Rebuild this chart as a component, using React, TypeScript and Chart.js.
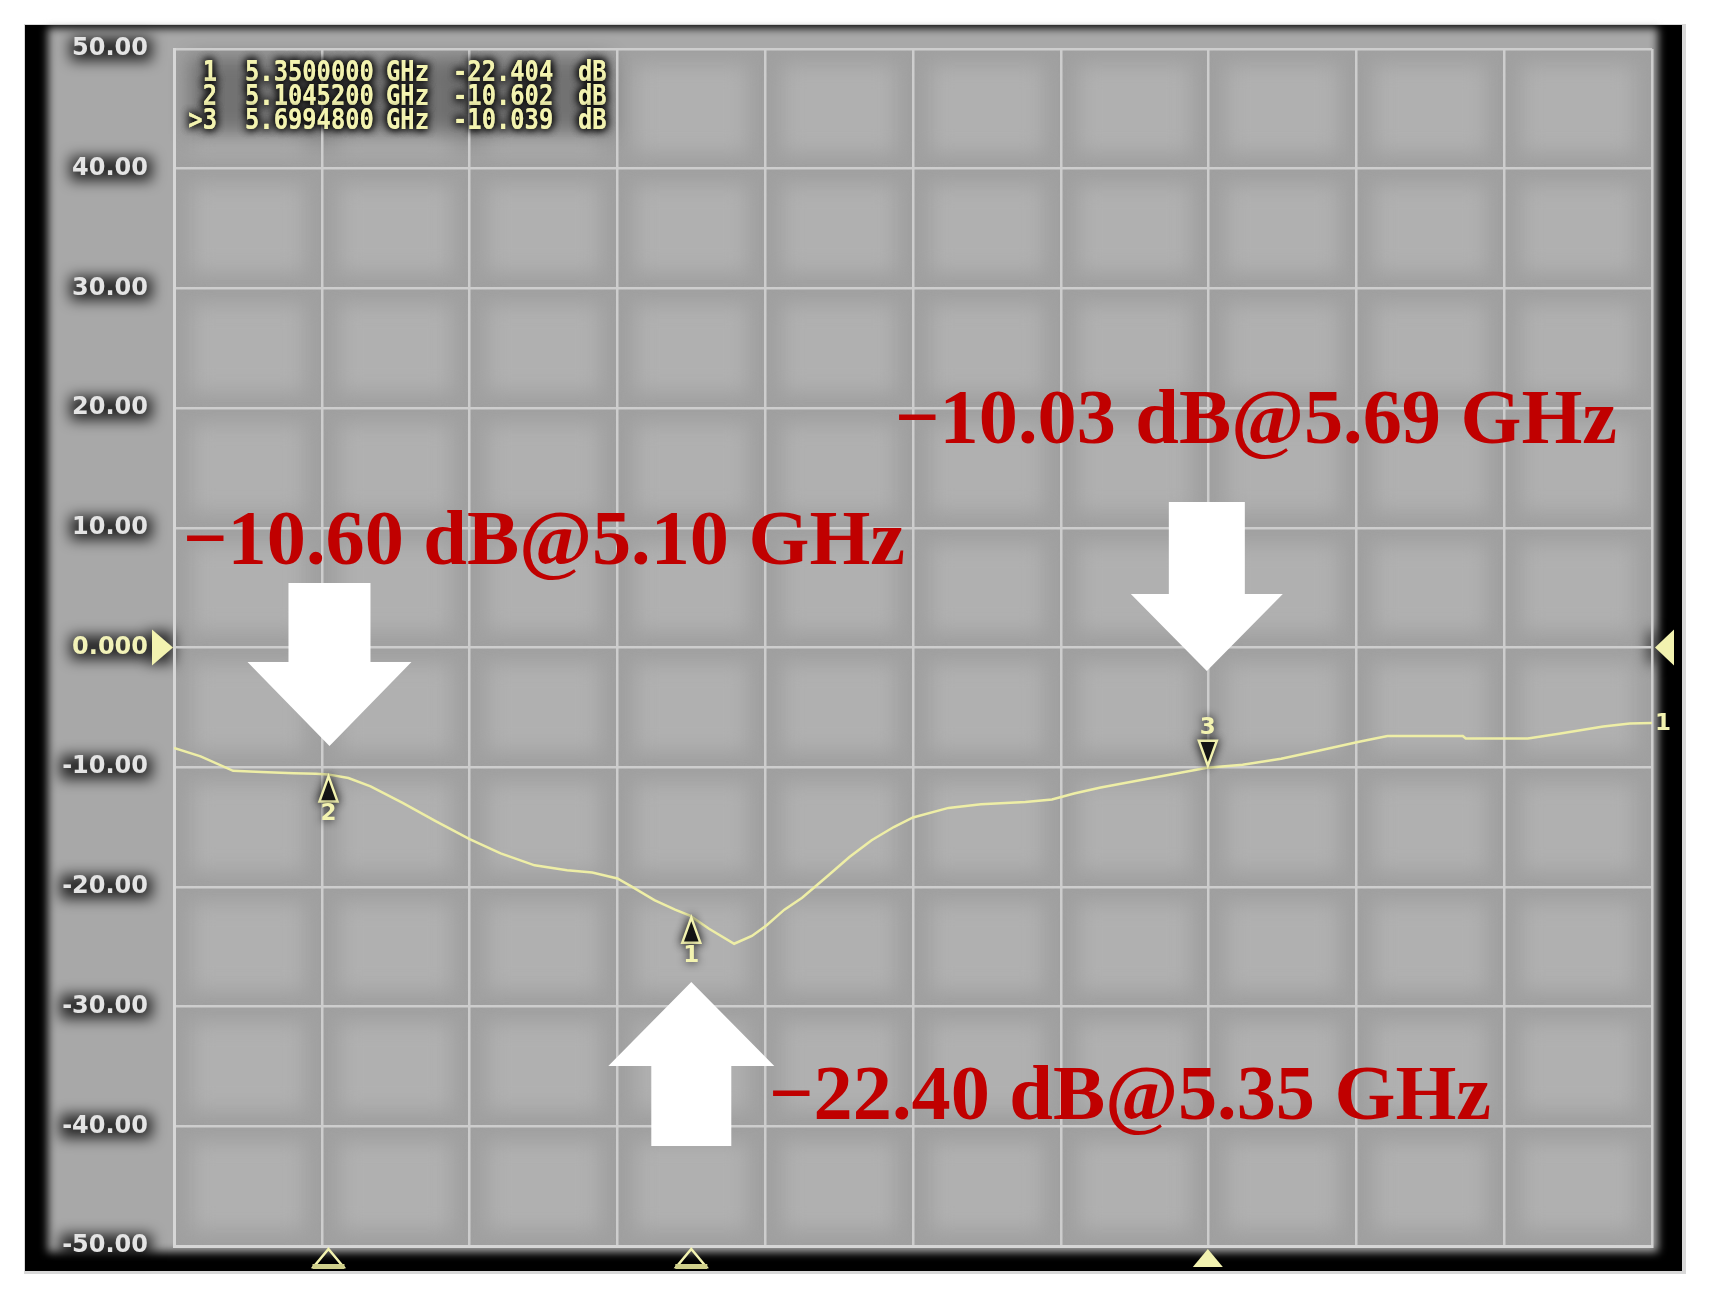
import { useEffect, useRef } from "react";
import { Chart, registerables } from "chart.js";

Chart.register(...registerables);

// ---- data ----
const freqGHz = [5.000, 5.018, 5.040, 5.059, 5.081, 5.096, 5.104, 5.118, 5.133, 5.155, 5.177, 5.200, 5.221, 5.244, 5.266, 5.283, 5.300, 5.310, 5.325, 5.339, 5.349, 5.362, 5.379, 5.391, 5.401, 5.413, 5.425, 5.443, 5.457, 5.472, 5.487, 5.500, 5.524, 5.546, 5.576, 5.594, 5.609, 5.627, 5.657, 5.679, 5.699, 5.723, 5.749, 5.775, 5.801, 5.821, 5.872, 5.874, 5.916, 5.937, 5.967, 5.985, 6.000];
const s11dB = [-8.4, -9.1, -10.3, -10.4, -10.5, -10.55, -10.6, -10.9, -11.6, -13.0, -14.5, -16.0, -17.2, -18.2, -18.6, -18.8, -19.3, -20.0, -21.1, -21.9, -22.4, -23.5, -24.75, -24.1, -23.2, -21.9, -20.9, -19.0, -17.5, -16.1, -15.0, -14.2, -13.4, -13.1, -12.9, -12.7, -12.2, -11.7, -11.0, -10.5, -10.04, -9.8, -9.3, -8.6, -7.9, -7.4, -7.4, -7.6, -7.6, -7.2, -6.6, -6.35, -6.3];

const markerIds = ["1", "2", "3"];
const markerRowLabels = ["1", "2", ">3"];
const markerFreqGHz = [5.35, 5.10452, 5.69948];
const markerDb = [-22.404, -10.602, -10.039];
const markerActive = [false, false, true];
const markerAbove = [false, false, true];
const annotationTexts = ["\u221222.40 dB@5.35 GHz", "\u221210.60 dB@5.10 GHz", "\u221210.03 dB@5.69 GHz"];

const xMin = 5.0;
const xMax = 6.0;
const xStep = 0.1;
const yMin = -50;
const yMax = 50;
const yStep = 10;
const refLevel = 0;
const traceId = "1";

// ---- layout constants ----
const W = 1710;
const H = 1307;
const CREAM = "#f3f3b0";
const RED = "#c00000";

const annoPos = [
  { x: 769, y: 1119 },
  { x: 183, y: 564 },
  { x: 895, y: 443 },
];
const arrowShape = [
  { tipY: 982, baseY: 1066, headHalf: 83, shaftHalf: 40, endY: 1146, dx: 0 },
  { tipY: 746, baseY: 662, headHalf: 82, shaftHalf: 41, endY: 583, dx: 1 },
  { tipY: 671, baseY: 594, headHalf: 76, shaftHalf: 38, endY: 502, dx: -1 },
];

function drawArrow(ctx: CanvasRenderingContext2D, x: number, a: any) {
  ctx.beginPath();
  ctx.moveTo(x, a.tipY);
  ctx.lineTo(x + a.headHalf, a.baseY);
  ctx.lineTo(x + a.shaftHalf, a.baseY);
  ctx.lineTo(x + a.shaftHalf, a.endY);
  ctx.lineTo(x - a.shaftHalf, a.endY);
  ctx.lineTo(x - a.shaftHalf, a.baseY);
  ctx.lineTo(x - a.headHalf, a.baseY);
  ctx.closePath();
  ctx.fill();
}

function condensedText(ctx: CanvasRenderingContext2D, s: string, x: number, y: number, sx: number, align: string) {
  ctx.save();
  ctx.translate(x, y);
  ctx.scale(sx, 1);
  ctx.textAlign = align as CanvasTextAlign;
  ctx.fillText(s, 0, 0);
  ctx.restore();
}

const decorPlugin = {
  id: "decor",
  beforeDraw(chart: any) {
    const ctx: CanvasRenderingContext2D = chart.ctx;
    const { left, right, top, bottom } = chart.chartArea;
    ctx.save();
    ctx.fillStyle = "#ffffff";
    ctx.fillRect(0, 0, W, H);
    ctx.fillStyle = "#d8d8d8";
    ctx.fillRect(24, 24, 1662, 1250);
    ctx.fillStyle = "#000000";
    ctx.fillRect(25, 25, 1657, 1246);
    ctx.filter = "blur(4px)";
    ctx.fillStyle = "#a8a8a8";
    ctx.fillRect(48, 28, 1610, 1224);
    ctx.filter = "none";
    ctx.fillStyle = "#a0a0a0";
    ctx.fillRect(left, top, right - left, bottom - top);
    const nx = Math.round((xMax - xMin) / xStep);
    const ny = Math.round((yMax - yMin) / yStep);
    const cw = (right - left) / nx;
    const ch = (bottom - top) / ny;
    ctx.save();
    ctx.beginPath();
    ctx.rect(left, top, right - left, bottom - top);
    ctx.clip();
    ctx.filter = "blur(10px)";
    ctx.fillStyle = "#b0b0b0";
    for (let i = 0; i < nx; i++) {
      for (let j = 0; j < ny; j++) {
        ctx.fillRect(left + i * cw + 18, top + j * ch + 16, cw - 36, ch - 32);
      }
    }
    ctx.filter = "none";
    ctx.restore();
    const ys = chart.scales.y;
    ctx.font = 'bold 24px "DejaVu Sans"';
    ctx.filter = "blur(7px)";
    ctx.fillStyle = "rgba(0,0,0,0.75)";
    for (const t of ys.ticks) {
      const py = ys.getPixelForValue(t.value);
      const w = ctx.measureText(t.label).width;
      ctx.fillRect(148 - w - 2, py - 12, w + 6, 24);
    }
    const y0 = ys.getPixelForValue(refLevel);
    ctx.fillRect(148, y0 - 16, 26, 32);
    ctx.fillRect(right - 4, y0 - 16, 10, 32);
    // dark haze behind the marker table
    ctx.filter = "blur(10px)";
    ctx.fillStyle = "rgba(0,0,0,0.35)";
    ctx.fillRect(190, 58, 420, 76);
    ctx.filter = "none";
    ctx.restore();
  },
  afterDraw(chart: any) {
    const ctx: CanvasRenderingContext2D = chart.ctx;
    const { left, right, bottom } = chart.chartArea;
    const xs = chart.scales.x;
    const ys = chart.scales.y;
    ctx.save();

    const y0 = ys.getPixelForValue(refLevel);
    ctx.fillStyle = CREAM;
    ctx.beginPath();
    ctx.moveTo(left - 1, y0);
    ctx.lineTo(left - 22, y0 - 18);
    ctx.lineTo(left - 22, y0 + 18);
    ctx.closePath();
    ctx.fill();
    ctx.beginPath();
    ctx.moveTo(right + 3, y0);
    ctx.lineTo(right + 22, y0 - 18);
    ctx.lineTo(right + 22, y0 + 18);
    ctx.closePath();
    ctx.fill();

    const lastY = ys.getPixelForValue(s11dB[s11dB.length - 1]);
    ctx.font = 'bold 23px "DejaVu Sans"';
    ctx.textAlign = "left";
    ctx.textBaseline = "middle";
    ctx.fillStyle = CREAM;
    ctx.fillText(traceId, right + 3, lastY + 1);

    for (let i = 0; i < markerIds.length; i++) {
      const px = xs.getPixelForValue(markerFreqGHz[i]);
      const py = ys.getPixelForValue(markerDb[i]);
      const s = markerAbove[i] ? -1 : 1;
      ctx.save();
      ctx.shadowColor = "rgba(0,0,0,0.9)";
      ctx.shadowBlur = 10;
      ctx.fillStyle = "#1c1c1c";
      ctx.strokeStyle = CREAM;
      ctx.lineWidth = 2.5;
      ctx.beginPath();
      ctx.moveTo(px, py + s * 2);
      ctx.lineTo(px + 9, py + s * 27);
      ctx.lineTo(px - 9, py + s * 27);
      ctx.closePath();
      ctx.fill();
      ctx.stroke();
      ctx.font = 'bold 23px "DejaVu Sans"';
      ctx.textAlign = "center";
      ctx.textBaseline = "middle";
      ctx.fillStyle = CREAM;
      ctx.fillText(markerIds[i], px, py + s * 40);
      ctx.restore();
    }

    for (let i = 0; i < markerIds.length; i++) {
      const px = xs.getPixelForValue(markerFreqGHz[i]);
      ctx.beginPath();
      ctx.moveTo(px, bottom + 3);
      ctx.lineTo(px + 15, bottom + 21);
      ctx.lineTo(px - 15, bottom + 21);
      ctx.closePath();
      if (markerActive[i]) {
        ctx.fillStyle = CREAM;
        ctx.fill();
      } else {
        ctx.strokeStyle = CREAM;
        ctx.lineWidth = 2.5;
        ctx.stroke();
        ctx.fillStyle = "#cfcf8a";
        ctx.fillRect(px - 16, bottom + 18, 32, 5);
      }
    }

    // marker table
    const rowY = [72, 96, 120];
    ctx.font = 'bold 29px "DejaVu Sans Mono"';
    ctx.textBaseline = "middle";
    for (let pass = 0; pass < 3; pass++) {
      ctx.shadowColor = "rgba(0,0,0,1)";
      ctx.shadowBlur = 9;
      ctx.fillStyle = CREAM;
      for (let i = 0; i < markerIds.length; i++) {
        const y = rowY[i] + 1;
        condensedText(ctx, markerRowLabels[i], 217, y, 0.82, "right");
        condensedText(ctx, markerFreqGHz[i].toFixed(7), 245, y, 0.82, "left");
        condensedText(ctx, "GHz", 386, y, 0.82, "left");
        condensedText(ctx, markerDb[i].toFixed(3), 453, y, 0.82, "left");
        condensedText(ctx, "dB", 578, y, 0.82, "left");
      }
    }
    ctx.shadowBlur = 0;
    ctx.shadowColor = "transparent";

    ctx.fillStyle = "#ffffff";
    for (let i = 0; i < markerIds.length; i++) {
      const px = xs.getPixelForValue(markerFreqGHz[i]);
      drawArrow(ctx, px + arrowShape[i].dx, arrowShape[i]);
    }

    ctx.font = 'bold 78px "Liberation Serif"';
    const wRef = ctx.measureText(annotationTexts[1]).width;
    const size = (78 * 722) / wRef;
    ctx.font = `bold ${size.toFixed(1)}px "Liberation Serif"`;
    ctx.fillStyle = RED;
    ctx.textAlign = "left";
    ctx.textBaseline = "alphabetic";
    for (let i = 0; i < annotationTexts.length; i++) {
      ctx.fillText(annotationTexts[i], annoPos[i].x, annoPos[i].y);
    }
    ctx.restore();
  },
};

export default function App() {
  const ref = useRef<HTMLCanvasElement | null>(null);
  useEffect(() => {
    document.body.style.margin = "0";
    document.body.style.overflow = "hidden";
    const canvas = ref.current;
    if (!canvas) return;
    const chart = new Chart(canvas, {
      type: "line",
      data: {
        datasets: [
          {
            label: "S11",
            data: freqGHz.map((f, i) => ({ x: f, y: s11dB[i] })),
            borderColor: "#eeeea6",
            borderWidth: 2.5,
            pointRadius: 0,
            tension: 0,
            fill: false,
          },
        ],
      },
      options: {
        responsive: false,
        animation: false,
        devicePixelRatio: 1,
        layout: { padding: { left: 24, right: 58, top: 49, bottom: 61 } },
        plugins: { legend: { display: false }, tooltip: { enabled: false } },
        scales: {
          x: {
            type: "linear",
            min: xMin,
            max: xMax,
            ticks: { display: false, stepSize: xStep },
            grid: { color: "#cdcdcd", lineWidth: 2.5, drawTicks: false },
            border: { color: "#d6d6d6", width: 3 },
            afterFit: (s: any) => {
              s.height = 0;
            },
          },
          y: {
            min: yMin,
            max: yMax,
            ticks: {
              stepSize: yStep,
              padding: 26,
              color: (c: any) => (c.tick && c.tick.value === refLevel ? "#f2f2b8" : "#e4e4e4"),
              font: { family: "DejaVu Sans", size: 24, weight: "bold" },
              callback: (v: any) => (v === refLevel ? "0.000" : Number(v).toFixed(2)),
            },
            grid: { color: "#cdcdcd", lineWidth: 2.5, drawTicks: false, tickLength: 0 },
            border: { color: "#d6d6d6", width: 3 },
            afterFit: (s: any) => {
              s.width = 150;
            },
          },
        },
      },
      plugins: [decorPlugin],
    });
    return () => chart.destroy();
  }, []);
  return <canvas ref={ref} width={W} height={H} style={{ display: "block" }} />;
}
